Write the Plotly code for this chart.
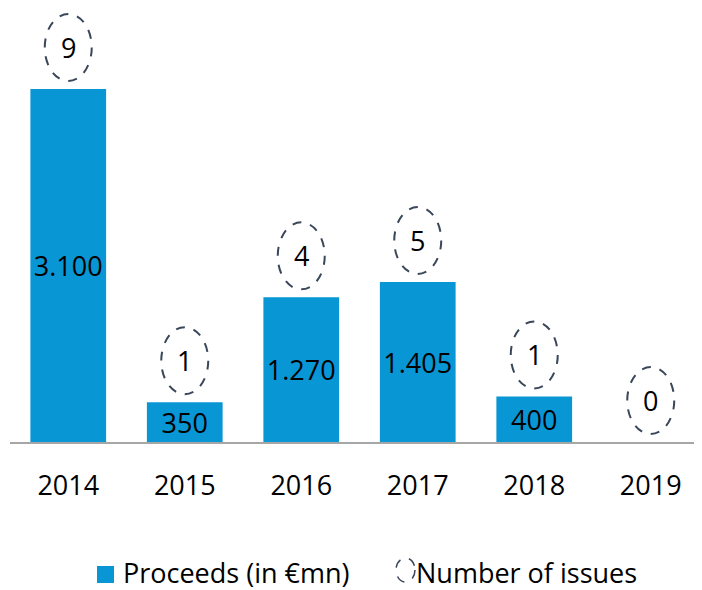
import plotly.graph_objects as go

years = ["2014", "2015", "2016", "2017", "2018", "2019"]
proceeds = [3100, 350, 1270, 1405, 400, 0]
issues = [9, 1, 4, 5, 1, 0]

BAR_COLOR = "#0996D5"
ELL_COLOR = "#3A4659"
FONT = "Open Sans"

# the page body adds an 8px margin, so the figure is 8px smaller
FIG_W, FIG_H = 694, 582
PLOT_L, PLOT_W, PLOT_H = 2.0, 692.0, 434.0

fig = go.Figure()
fig.add_trace(go.Bar(
    x=years, y=proceeds,
    marker=dict(color=BAR_COLOR, line=dict(width=0)),
    texttemplate=["%{y:,}" if v > 0 else "" for v in proceeds],
    textposition="inside", insidetextanchor="middle",
    textangle=0, constraintext="none",
    insidetextfont=dict(family=FONT, size=27, color="black"),
    showlegend=False, hoverinfo="skip",
))

shapes = []
annotations = []
for i, (yr, v, n) in enumerate(zip(years, proceeds, issues)):
    shapes.append(dict(
        type="circle", xref="x", yref="y",
        xsizemode="pixel", ysizemode="pixel",
        xanchor=i, yanchor=v,
        x0=-23.5, x1=23.5, y0=8, y1=75,
        line=dict(color=ELL_COLOR, width=2, dash="dash"),
        fillcolor="rgba(0,0,0,0)",
    ))
    annotations.append(dict(
        x=i, y=v, xref="x", yref="y", yshift=41.5,
        text=str(n), showarrow=False,
        font=dict(family=FONT, size=27, color="black"),
        xanchor="center", yanchor="middle",
    ))

# manual legend, positions given in reference-window pixels
def px(xp):
    return (xp - 8 - PLOT_L) / PLOT_W
def py(yp):
    return (PLOT_H - (yp - 8)) / PLOT_H

shapes.append(dict(type="rect", xref="paper", yref="paper",
                   x0=px(97), x1=px(114), y0=py(583), y1=py(566),
                   fillcolor=BAR_COLOR, line=dict(width=0)))
shapes.append(dict(type="circle", xref="paper", yref="paper",
                   x0=px(396), x1=px(415), y0=py(582), y1=py(558),
                   line=dict(color=ELL_COLOR, width=1.5, dash="dash"),
                   fillcolor="rgba(0,0,0,0)"))
annotations.append(dict(x=px(122), y=py(572), xref="paper", yref="paper",
                        text="Proceeds (in €mn)", showarrow=False,
                        xanchor="left", yanchor="middle", borderpad=0,
                        font=dict(family=FONT, size=27, color="black")))
annotations.append(dict(x=px(415), y=py(572), xref="paper", yref="paper",
                        text="Number of issues", showarrow=False,
                        xanchor="left", yanchor="middle", borderpad=0,
                        font=dict(family=FONT, size=27, color="black")))

fig.update_layout(
    width=FIG_W, height=FIG_H,
    margin=dict(l=PLOT_L, r=FIG_W - PLOT_L - PLOT_W, t=0, b=FIG_H - PLOT_H),
    paper_bgcolor="white", plot_bgcolor="white",
    separators=",.",
    bargap=0.35,
    shapes=shapes, annotations=annotations,
    showlegend=False,
    xaxis=dict(
        type="category", range=[-0.5, 5.44],
        showline=True, linecolor="#A6A6A6", linewidth=1.5,
        showgrid=False, ticks="", zeroline=False,
        tickfont=dict(family=FONT, size=27, color="black"),
        ticklabelstandoff=19,
    ),
    yaxis=dict(
        range=[0, 3811], visible=False, showgrid=False, zeroline=False,
    ),
)

fig.write_html("out.html")
